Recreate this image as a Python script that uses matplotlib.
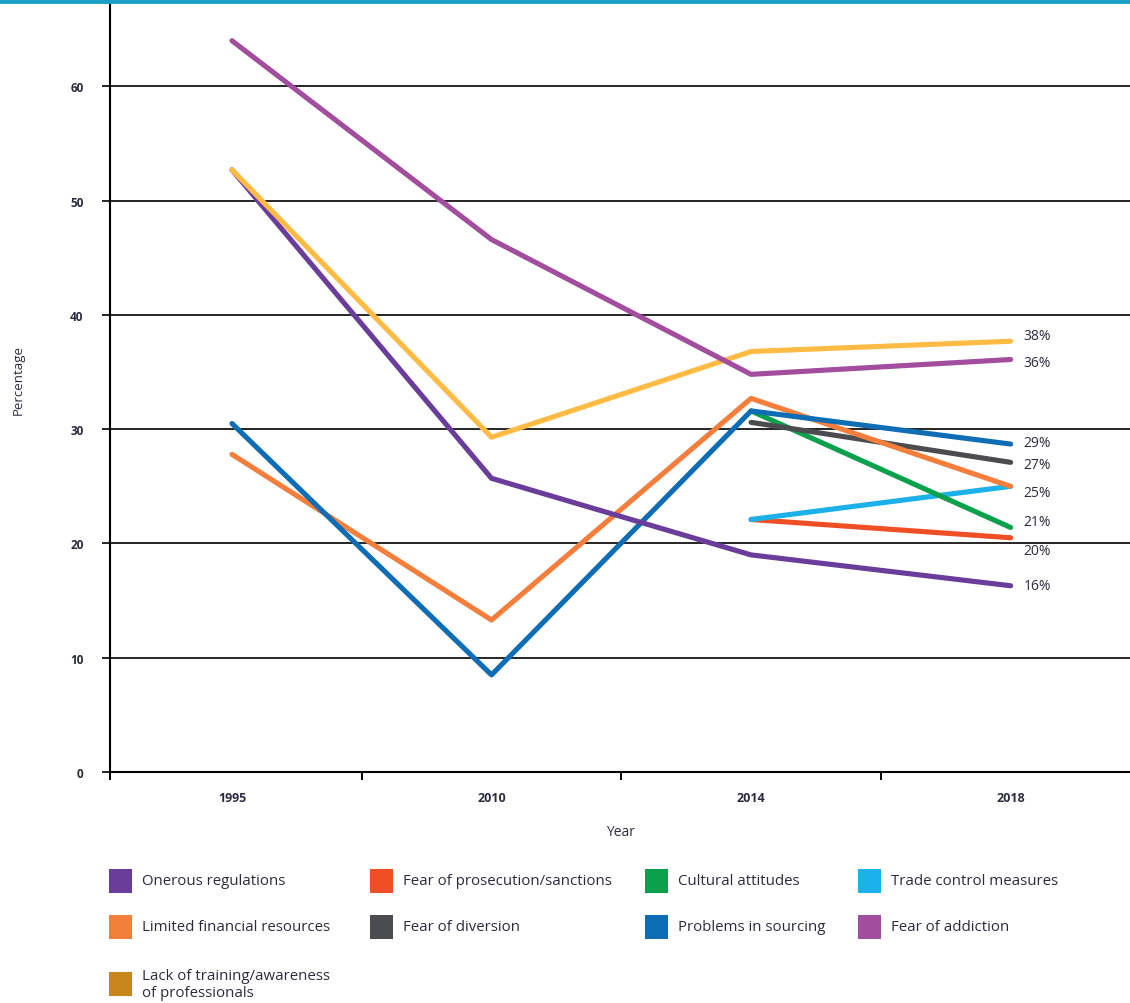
import matplotlib.pyplot as plt
from matplotlib.patches import Rectangle
from matplotlib.lines import Line2D

plt.rcParams['font.family'] = ['Open Sans', 'DejaVu Sans']

years = ['1995', '2010', '2014', '2018']

# survey values per barrier (percent of countries); None = not asked that year
onerous = [52.7, 25.7, 19.0, 16.3]
addiction = [64.0, 46.6, 34.8, 36.1]
training = [52.7, 29.3, 36.8, 37.7]
finance = [27.8, 13.3, 32.7, 25.0]
sourcing = [30.5, 8.5, 31.6, 28.7]
diversion = [None, None, 30.6, 27.1]
cultural = [None, None, 31.6, 21.4]
trade = [None, None, 22.1, 25.0]
prosecution = [None, None, 22.1, 20.5]

legend_names = ['Onerous regulations', 'Fear of prosecution/sanctions', 'Cultural attitudes',
                'Trade control measures', 'Limited financial resources', 'Fear of diversion',
                'Problems in sourcing', 'Fear of addiction',
                'Lack of training/awareness\nof professionals']

txt = '#2b2b40'
C = {
    'onerous': '#6a3d9a', 'prosecution': '#ef4f24', 'cultural': '#0ba04b',
    'trade': '#1db1ea', 'finance': '#f47f3c', 'diversion': '#4a4c4f',
    'sourcing': '#0e6db5', 'addiction': '#a24d9e', 'training': '#c8861c',
}

fig = plt.figure(figsize=(11.30, 10.04), dpi=100)
ax = fig.add_axes([110 / 1130, 231 / 1004, 1020 / 1130, 769 / 1004])

x = list(range(len(years)))


def draw(vals, color, z=3):
    xs = [i for i, v in zip(x, vals) if v is not None]
    ys = [v for v in vals if v is not None]
    ax.plot(xs, ys, color=color, lw=3.7, solid_capstyle='round',
            solid_joinstyle='round', zorder=z)


draw(prosecution, C['prosecution'])
draw(trade, C['trade'])
draw(cultural, C['cultural'])
draw(diversion, C['diversion'])
draw(finance, C['finance'])
draw(sourcing, C['sourcing'])
draw(onerous, C['onerous'])
draw(training, '#ffbb44')
draw(addiction, C['addiction'])

# end-of-line value labels (one label where two lines meet at 25%)
ends = [(training, 0.5), (addiction, -0.3), (sourcing, 0.1), (diversion, -0.2),
        (trade, -0.5), (cultural, 0.5), (prosecution, -1.1), (onerous, 0.0)]
for vals, nudge in ends:
    ax.text(3.05, vals[-1] + nudge, f'{round(vals[-1])}%', fontsize=10,
            color=txt, va='center', ha='left')

ax.set_xlim(-0.47, 3.46)
ax.set_ylim(0, 67.3)
ax.set_yticks(range(0, 70, 10))
ax.set_yticklabels([str(v) for v in range(0, 70, 10)], fontsize=8.5, color=txt,
                   fontweight='bold')
ax.grid(axis='y', color='black', lw=1.2, zorder=1)
ax.set_xticks(x)
ax.set_xticklabels(years, fontsize=9, color=txt, fontweight='bold')
ax.tick_params(axis='x', which='major', length=0, pad=14)
ax.set_xticks([-0.47, 0.5, 1.5, 2.5], minor=True)
ax.tick_params(axis='x', which='minor', length=6, width=1.4, color='black')
ax.tick_params(axis='y', length=6, width=1.2, pad=13)
for s in ['top', 'right']:
    ax.spines[s].set_visible(False)
ax.spines['left'].set_linewidth(1.5)
ax.spines['bottom'].set_linewidth(1.5)
ax.set_axisbelow(True)

ax.set_xlabel('Year', fontsize=10, color=txt, labelpad=14)
fig.text(18 / 1130, 1 - 380 / 1004, 'Percentage', rotation=90, fontsize=9.5,
         color=txt, ha='center', va='center')

# coloured band across the top
fig.add_artist(Line2D([0, 1], [1 - 2 / 1004, 1 - 2 / 1004], color='#1aa0c8', lw=3.5))

# legend grid, 4 columns
legend_colors = [C['onerous'], C['prosecution'], C['cultural'], C['trade'],
                 C['finance'], C['diversion'], C['sourcing'], C['addiction'],
                 C['training']]
col_x = [109, 370, 645, 858]
row_y = [882, 928, 985]
W, H = 1130, 1004
for i, (name, col) in enumerate(zip(legend_names, legend_colors)):
    r, c = divmod(i, 4)
    px, py = col_x[c], row_y[r]
    fig.add_artist(Rectangle((px / W, 1 - (py + 12) / H), 23 / W, 24 / H,
                             facecolor=col, edgecolor='none'))
    fig.text((px + 33) / W, 1 - py / H, name, fontsize=10.8, color=txt,
             va='center', ha='left', linespacing=1.15, fontweight='medium')

fig.savefig('out.png', dpi=100)
